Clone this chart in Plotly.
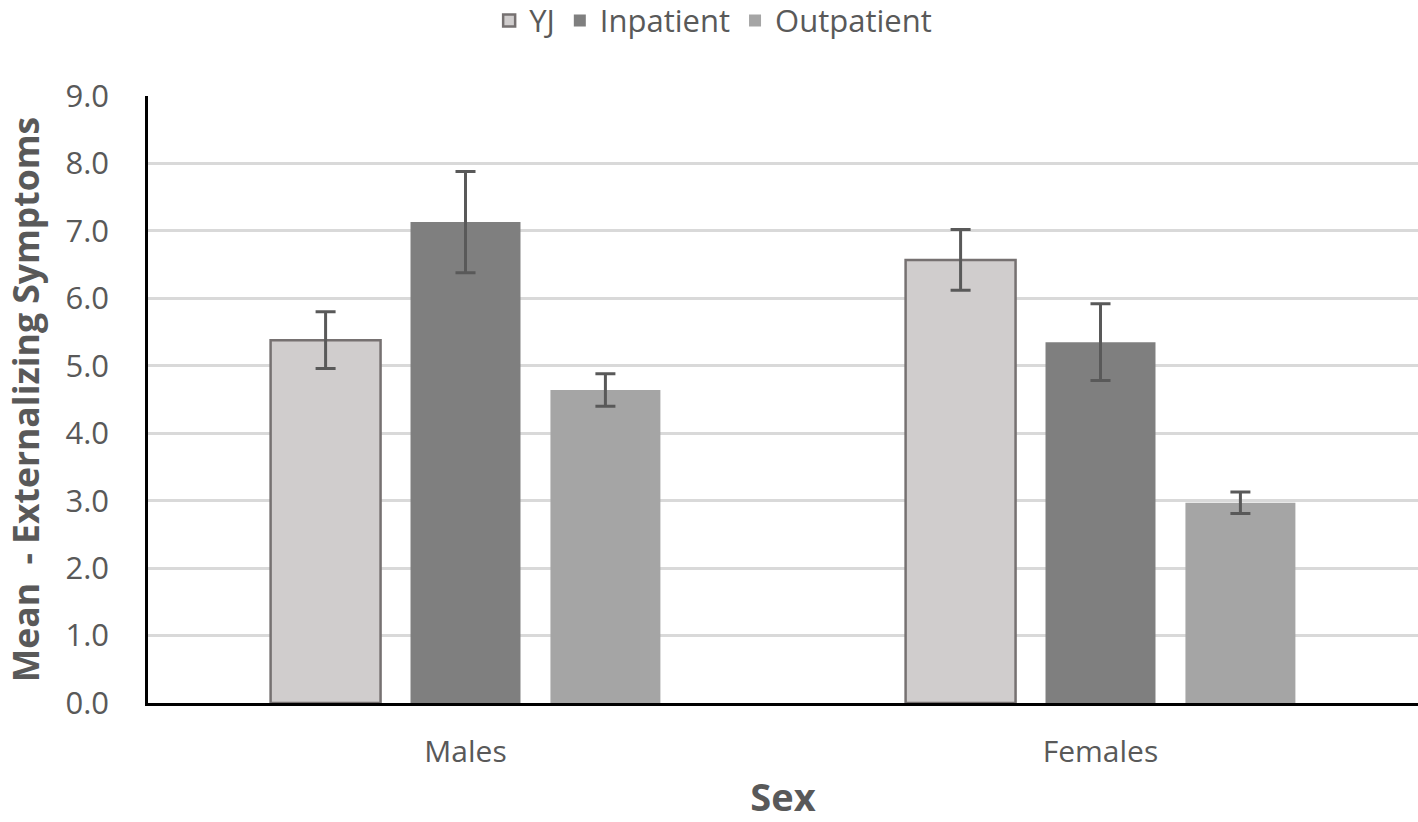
import plotly.graph_objects as go

categories = ["Males", "Females"]
series_names = ["YJ", "Inpatient", "Outpatient"]
yj_mean = [5.38, 6.57]
yj_err = [0.42, 0.45]
inpatient_mean = [7.13, 5.35]
inpatient_err = [0.75, 0.57]
outpatient_mean = [4.64, 2.97]
outpatient_err = [0.24, 0.16]

fills = ["#d0cdcd", "#7f7f7f", "#a5a5a5"]
outlines = ["#767171", "#7f7f7f", "#a5a5a5"]
line_w = [2.5, 0, 0]

FONT = "Open Sans"

fig = go.Figure()
for name, vals, errs, fc, lc, lw in zip(series_names,
                                       [yj_mean, inpatient_mean, outpatient_mean],
                                       [yj_err, inpatient_err, outpatient_err],
                                       fills, outlines, line_w):
    fig.add_trace(go.Bar(
        x=categories, y=vals, name=name,
        marker=dict(color=fc, line=dict(color=lc, width=lw)),
        error_y=dict(type="data", array=errs, visible=True,
                     color="#595959", thickness=3, width=10),
    ))

fig.update_layout(
    width=1418, height=822,
    barmode="group", bargap=0.339, bargroupgap=0.214,
    plot_bgcolor="white", paper_bgcolor="white",
    margin=dict(l=148, r=0, t=96, b=119, autoexpand=False),
    font=dict(family=FONT, color="#595959", size=30),
    legend=dict(orientation="h", xref="paper", x=0.445, xanchor="center",
                yref="paper", y=1.124, yanchor="middle",
                font=dict(family=FONT, size=31, color="#595959"), itemwidth=30,
                traceorder="normal"),
    showlegend=True,
)
fig.update_yaxes(range=[0, 9], dtick=1, tickformat=".1f",
                 showgrid=True, gridcolor="#d9d9d9", gridwidth=2.5,
                 showline=True, linecolor="black", linewidth=2.5,
                 ticks="", ticklabelstandoff=30,
                 tickfont=dict(family=FONT, size=31, color="#595959"),
                 title=dict(text="<b>Mean  - Externalizing Symptoms</b>",
                            font=dict(family=FONT, size=35.5, color="#595959"), standoff=16),
                 zeroline=False)
fig.update_xaxes(showline=True, linecolor="black", linewidth=2.5,
                 ticks="", ticklabelstandoff=20,
                 tickfont=dict(family=FONT, size=30, color="#595959"),
                 title=dict(text="<b>Sex</b>", font=dict(family=FONT, size=38, color="#595959"),
                            standoff=44))

fig.write_html("out.html", config={"displayModeBar": False},
               post_script="document.body.style.margin='0';")
